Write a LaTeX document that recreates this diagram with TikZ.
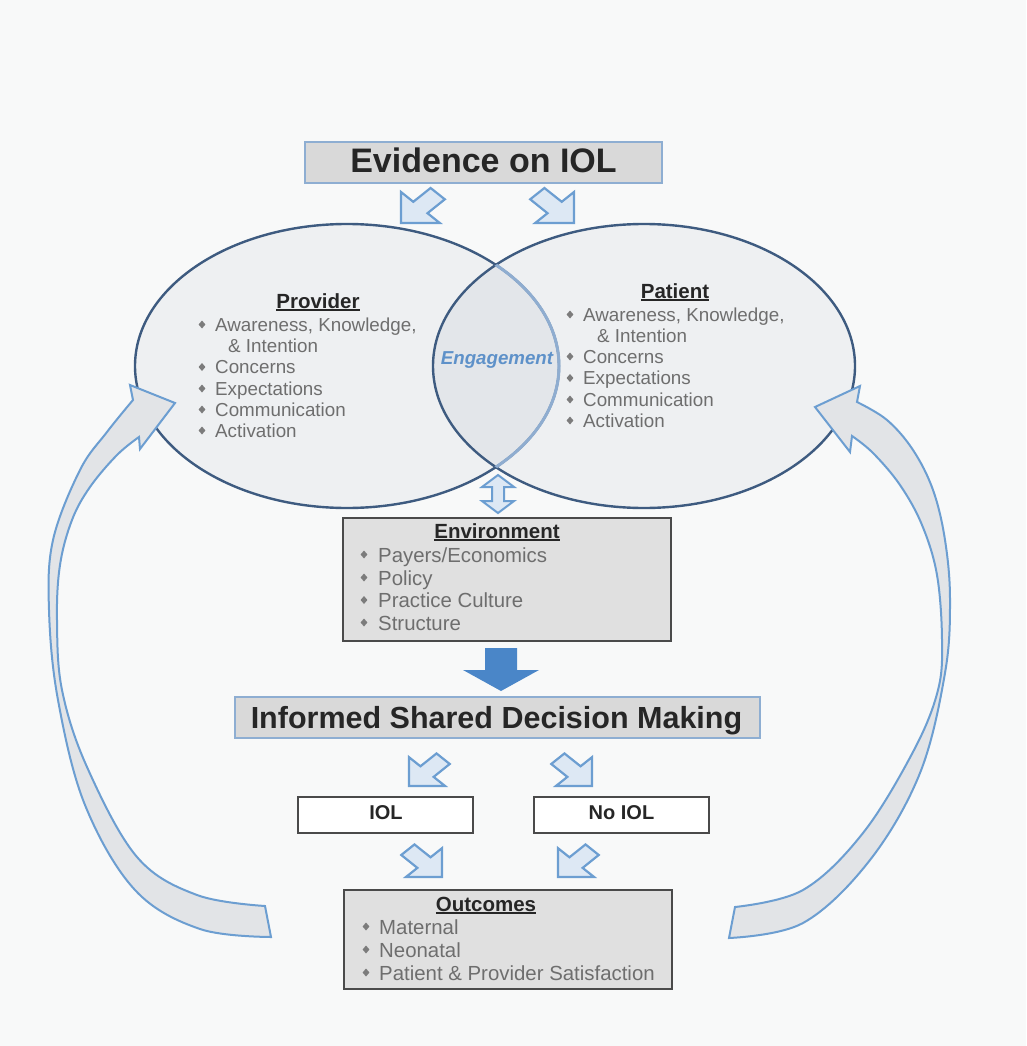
\documentclass[tikz,border=0pt]{standalone}
\usepackage{fontspec}
\setmainfont{Liberation Sans}
\usetikzlibrary{shapes.geometric}

\definecolor{paper}{HTML}{F8F9F9}
\definecolor{boxgray}{HTML}{D9D9D9}
\definecolor{listgray}{HTML}{E0E0E0}
\definecolor{boxblue}{HTML}{8EAED2}
\definecolor{boxdark}{HTML}{4A4A4A}
\definecolor{ellfill}{HTML}{EEF0F2}
\definecolor{midfill}{HTML}{E3E6EA}
\definecolor{elldark}{HTML}{3E5B80}
\definecolor{elllight}{HTML}{8FADD0}
\definecolor{arrblue}{HTML}{6C9ED1}
\definecolor{arrfill}{HTML}{DDE8F4}
\definecolor{bandgray}{HTML}{E2E4E7}
\definecolor{solidblue}{HTML}{4A86C8}
\definecolor{titledark}{HTML}{262626}
\definecolor{itemgray}{HTML}{6E6E6E}
\definecolor{bulgray}{HTML}{7C7C7C}
\definecolor{engblue}{HTML}{5E91C9}

% bold heading with a thick underline
\newcommand\hdul[1]{\setbox0=\hbox{#1}\rlap{\rule[-2.6pt]{\wd0}{1.5pt}}\box0}

\tikzset{
  hdbox/.style={draw=boxblue, fill=boxgray, line width=1.5pt, inner sep=0pt},
  listbox/.style={draw=boxdark, fill=listgray, line width=1.4pt, inner sep=0pt},
  choicebox/.style={draw=boxdark, fill=white, line width=1.4pt, inner sep=0pt},
  smallarrow/.style={draw=arrblue, fill=arrfill, line width=2.2pt, line join=miter},
  bigarrow/.style={draw=arrblue, fill=bandgray, line width=2pt, line join=miter},
  hdtxt/.style={anchor=base, inner sep=0pt, text=titledark},
  sectitle/.style={anchor=base, inner sep=0pt, text=titledark, font=\fontsize{20.5}{24}\selectfont\bfseries},
  itemtxt/.style={anchor=base west, inner sep=0pt, text=itemgray, font=\fontsize{18.8}{21}\selectfont},
  bigitem/.style={anchor=base west, inner sep=0pt, text=itemgray, font=\fontsize{20.4}{23}\selectfont},
  choicetxt/.style={anchor=base, inner sep=0pt, text=titledark, font=\fontsize{20}{24}\selectfont\bfseries},
  % outline block arrow pointing down-left, tip corner at the origin
  sarrow/.pic={
    \draw[smallarrow] (0,0) -- (0,-31) -- (12.3,-21.2) -- (29.6,-35) -- (43.8,-23.7)
      -- (26.5,-9.8) -- (38.8,0) -- cycle;
  },
  bul/.pic={
    \fill[bulgray] (0,-4) -- (3.4,0) -- (0,4) -- (-3.4,0) -- cycle;
  }
}

\begin{document}
\begin{tikzpicture}[x=1pt,y=-1pt]
\fill[paper] (0,0) rectangle (1026,1046);
\useasboundingbox (0,0) rectangle (1026,1046);

% ---------- top heading ----------
\node[hdbox, minimum width=357pt, minimum height=41pt] (evbox) at (483.5,162.5) {};
\node[hdtxt, font=\fontsize{34}{40}\selectfont\bfseries] (evtxt) at (483.5,172) {Evidence on IOL};

\pic at (401,223) {sarrow};
\pic[xscale=-1] at (574,223) {sarrow};

% ---------- overlapping ellipses ----------
\fill[ellfill] (347,366) ellipse [x radius=212pt, y radius=142pt];
\fill[ellfill] (644,366) ellipse [x radius=211pt, y radius=142pt];
\begin{scope}
  \clip (347,366) ellipse [x radius=212pt, y radius=142pt];
  \fill[midfill] (644,366) ellipse [x radius=211pt, y radius=142pt];
\end{scope}
\draw[elldark, line width=2.4pt] (644,366) ellipse [x radius=211pt, y radius=142pt];
\draw[elldark, line width=2.4pt] (347,366) ellipse [x radius=212pt, y radius=142pt];
\begin{scope}
  \clip (644,366) ellipse [x radius=211pt, y radius=142pt];
  \draw[elllight, line width=3pt] (347,366) ellipse [x radius=212pt, y radius=142pt];
\end{scope}

% provider
\node[sectitle] (provt) at (318,308) {\hdul{Provider}};
\foreach \b/\t [count=\i] in {331/{Awareness, Knowledge,},373.5/Concerns,395/Expectations,416/Communication,437/Activation}{
  \pic at (202,\b-6.5) {bul};
  \node[itemtxt] (pv\i) at (215,\b) {\t};
}
\node[itemtxt] (pvx) at (228,352) {\& Intention};

% patient
\node[sectitle] (patt) at (675,298) {\hdul{Patient}};
\foreach \b/\t [count=\i] in {321/{Awareness, Knowledge,},363/Concerns,384.5/Expectations,406/Communication,427/Activation}{
  \pic at (570,\b-6.5) {bul};
  \node[itemtxt] (pt\i) at (583,\b) {\t};
}
\node[itemtxt] (ptx) at (597,342) {\& Intention};

% engagement
\node[anchor=base, inner sep=0pt, text=engblue, font=\fontsize{18.7}{22}\selectfont\bfseries\itshape] (eng) at (497,364) {Engagement};

% ---------- curved feedback arrows ----------
\draw[bigarrow] plot[smooth, tension=0.6] coordinates {(271,937) (200,929) (135,890) (85,805) (58,700) (49,610) (53,540) (80,470) (107,432) (133,400)}
  -- (130,385) -- (175,403) -- (140,449) -- (139,437)
  -- plot[smooth, tension=0.6] coordinates {(139,437) (117,455) (90,487) (72,520) (60,565) (57,620) (62,690) (87,767) (137,857) (197,895) (265,906)}
  -- cycle;
\draw[bigarrow] plot[smooth, tension=0.6] coordinates {(729,938) (803,923) (870,860) (920,773) (945,673) (950,600) (945,540) (933,490) (913,450) (887,420) (857,402)}
  -- (860,386) -- (815,407) -- (850,452) -- (852,436)
  -- plot[smooth, tension=0.6] coordinates {(852,436) (873,453) (900,485) (922,525) (937,575) (942,640) (938,690) (914,750) (863,833) (803,890) (735,907)}
  -- cycle;

% ---------- two-way arrow to environment ----------
\draw[smallarrow, line width=2pt] (498,475) -- (514,487) -- (504,487) -- (504,501) -- (514,501)
  -- (498,513) -- (482,501) -- (492,501) -- (492,487) -- (482,487) -- cycle;

% ---------- environment ----------
\node[listbox, minimum width=328pt, minimum height=123pt] (envbox) at (507,579.5) {};
\node[sectitle] (envt) at (497,538) {\hdul{Environment}};
\foreach \b/\t [count=\i] in {562/{Payers/Economics},585/Policy,607.5/Practice Culture,630/Structure}{
  \pic at (364,\b-7.5) {bul};
  \node[bigitem] (en\i) at (378,\b) {\t};
}

% solid arrow down
\fill[solidblue] (485,648) -- (517,648) -- (517,670) -- (539,670) -- (501,691) -- (463,670) -- (485,670) -- cycle;

% ---------- decision ----------
\node[hdbox, minimum width=525pt, minimum height=41pt] (sdbox) at (497.5,717.5) {};
\node[hdtxt, font=\fontsize{30.5}{36}\selectfont\bfseries] (sdtxt) at (496.5,728) {Informed Shared Decision Making};

\pic[scale=0.93] at (409,786) {sarrow};
\pic[xscale=-0.93, yscale=0.93] at (592,786) {sarrow};

\node[choicebox, minimum width=175pt, minimum height=36pt] (iolbox) at (385.5,815) {};
\node[choicetxt] (ioltxt) at (386,819.5) {IOL};
\node[choicebox, minimum width=175pt, minimum height=36pt] (noiolbox) at (621.5,815) {};
\node[choicetxt] (noioltxt) at (621.5,819.5) {No IOL};

\pic[xscale=-0.93, yscale=0.93] at (442,877) {sarrow};
\pic[scale=0.93] at (558,877) {sarrow};

% ---------- outcomes ----------
\node[listbox, minimum width=328pt, minimum height=99pt] (outbox) at (508,939.5) {};
\node[sectitle] (outt) at (486,911) {\hdul{Outcomes}};
\foreach \b/\t [count=\i] in {934/Maternal,957/Neonatal,980/{Patient \& Provider Satisfaction}}{
  \pic at (366,\b-7.5) {bul};
  \node[bigitem] (oc\i) at (379,\b) {\t};
}
\end{tikzpicture}
\end{document}
